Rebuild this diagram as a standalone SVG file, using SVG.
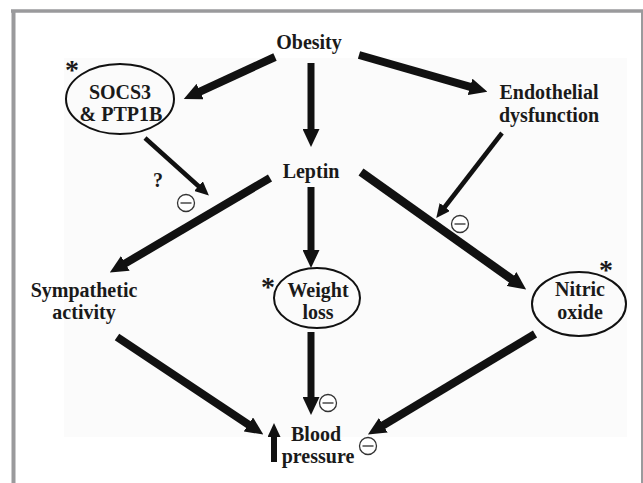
<svg xmlns="http://www.w3.org/2000/svg" width="643" height="483" viewBox="0 0 643 483">
<style>
.lbl{font-family:"Liberation Serif","Times New Roman",serif;font-weight:bold;fill:#1a1a1a;text-anchor:middle;font-size:20px}
.ast{font-family:"Liberation Serif","Times New Roman",serif;font-weight:bold;fill:#1a1a1a;text-anchor:middle;font-size:28px}
.ell{fill:none;stroke:#111;stroke-width:2}
.arr{stroke:#111;fill:none;stroke-linecap:butt}
.neg circle{fill:#fff;stroke:#333;stroke-width:1.3}
.neg line{stroke:#777;stroke-width:2}
.frame{stroke:#9a9a9c;fill:none}
</style>
<defs>
<marker id="ah" markerUnits="userSpaceOnUse" viewBox="0 0 18 17" markerWidth="18" markerHeight="17" refX="2" refY="8.5" orient="auto">
<path d="M0,0 L18,8.5 L0,17 z" fill="#111"/>
</marker>
<marker id="ahs" markerUnits="userSpaceOnUse" viewBox="0 0 14 13" markerWidth="14" markerHeight="13" refX="2" refY="6.5" orient="auto">
<path d="M0,0 L14,6.5 L0,13 z" fill="#111"/>
</marker>
</defs>
<rect x="0" y="0" width="643" height="483" fill="#fff"/>
<rect x="64" y="58" width="563" height="379" fill="#fbfbfb"/>
<line class="frame" x1="11" y1="11" x2="643" y2="11" stroke-width="3.5"/>
<line class="frame" x1="13.5" y1="11" x2="13.5" y2="483" stroke-width="4"/>
<line class="frame" x1="642" y1="11" x2="642" y2="483" stroke-width="2"/>

<g id="connectors">
<line class="arr" x1="275" y1="57" x2="198.3" y2="92.4" stroke-width="8" marker-end="url(#ah)"/>
<line class="arr" x1="311" y1="63" x2="311" y2="131" stroke-width="7" marker-end="url(#ah)"/>
<line class="arr" x1="359" y1="55" x2="472" y2="87.4" stroke-width="8" marker-end="url(#ah)"/>
<line class="arr" x1="145" y1="138" x2="200" y2="187.5" stroke-width="4.5" marker-end="url(#ahs)"/>
<line class="arr" x1="502" y1="133" x2="443.6" y2="208.5" stroke-width="4.5" marker-end="url(#ahs)"/>
<line class="arr" x1="270" y1="178" x2="123.6" y2="264.4" stroke-width="8" marker-end="url(#ah)"/>
<line class="arr" x1="311" y1="187" x2="311" y2="252" stroke-width="7" marker-end="url(#ah)"/>
<line class="arr" x1="361" y1="172" x2="513.1" y2="280.2" stroke-width="8.5" marker-end="url(#ah)"/>
<line class="arr" x1="117" y1="337" x2="250" y2="425.6" stroke-width="8" marker-end="url(#ah)"/>
<line class="arr" x1="311" y1="332" x2="311" y2="399" stroke-width="7" marker-end="url(#ah)"/>
<line class="arr" x1="535" y1="334" x2="381.6" y2="426.3" stroke-width="8" marker-end="url(#ah)"/>
<line class="arr" x1="274" y1="462" x2="274" y2="435" stroke-width="6" marker-end="url(#ahs)"/>
<text class="lbl" x="158" y="187" font-size="24">?</text>
<g class="neg"><circle cx="186" cy="203" r="8.5"/><line x1="180.5" y1="203" x2="191.5" y2="203"/></g>
<g class="neg"><circle cx="460" cy="224" r="8.5"/><line x1="454.5" y1="224" x2="465.5" y2="224"/></g>
<g class="neg"><circle cx="328" cy="403" r="8.5"/><line x1="322.5" y1="403" x2="333.5" y2="403"/></g>
<g class="neg"><circle cx="368" cy="446" r="8.5"/><line x1="362.5" y1="446" x2="373.5" y2="446"/></g>
</g>

<g id="obesity"><text class="lbl" x="309" y="49" font-size="27">Obesity</text></g>
<g id="socs3">
<ellipse class="ell" cx="120" cy="99" rx="54" ry="35"/>
<text class="ast" x="72" y="79">*</text>
<text class="lbl" x="120" y="99" font-size="21">SOCS3</text>
<text class="lbl" x="121" y="121" font-size="21">&amp; PTP1B</text>
</g>
<g id="endothelial">
<text class="lbl" x="549" y="99">Endothelial</text>
<text class="lbl" x="549" y="122">dysfunction</text>
</g>
<g id="leptin"><text class="lbl" x="311" y="178">Leptin</text></g>
<g id="sympathetic">
<text class="lbl" x="84" y="297">Sympathetic</text>
<text class="lbl" x="84" y="319">activity</text>
</g>
<g id="weightloss">
<ellipse class="ell" cx="317" cy="298" rx="43" ry="30"/>
<text class="ast" x="268" y="296">*</text>
<text class="lbl" x="318" y="297">Weight</text>
<text class="lbl" x="318" y="319">loss</text>
</g>
<g id="nitric">
<ellipse class="ell" cx="579" cy="304" rx="47" ry="32"/>
<text class="ast" x="606" y="279">*</text>
<text class="lbl" x="580" y="296">Nitric</text>
<text class="lbl" x="580" y="319">oxide</text>
</g>
<g id="bloodpressure">
<text class="lbl" x="316" y="441">Blood</text>
<text class="lbl" x="318" y="463">pressure</text>
</g>
</svg>
